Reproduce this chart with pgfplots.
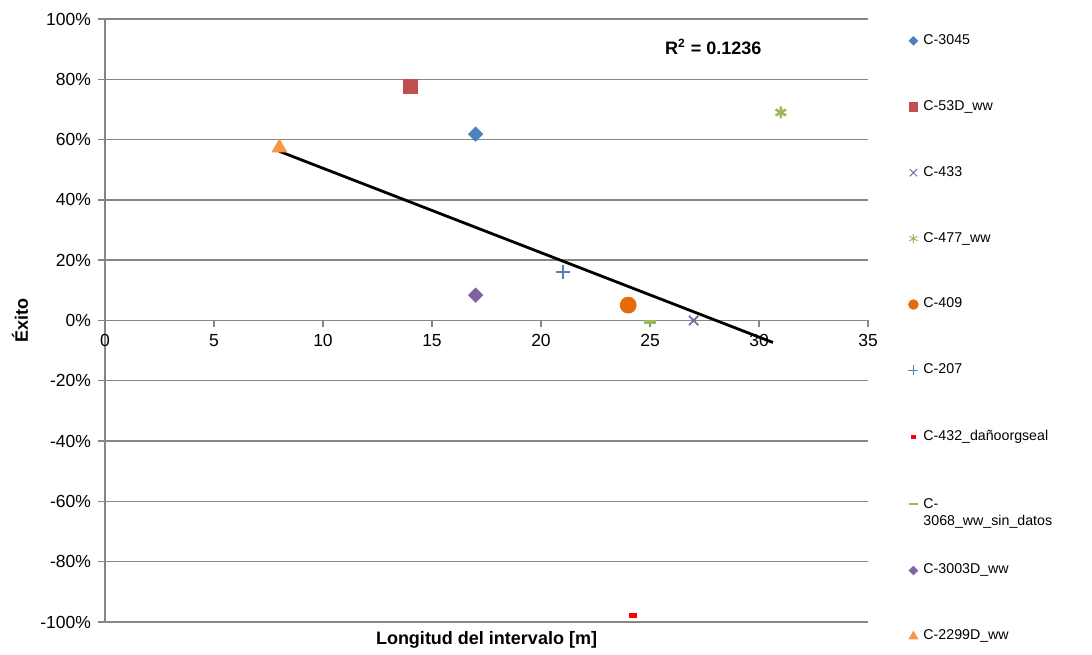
\documentclass[border=0pt]{standalone}
\usepackage{fontspec}
\setmainfont{Liberation Sans}
\usepackage{pgfplots}
\pgfplotsset{compat=1.18}
\definecolor{cblue}{HTML}{4F81BD}
\definecolor{cred}{HTML}{C0504D}
\definecolor{cpurple}{HTML}{8064A2}
\definecolor{cgreen}{HTML}{9BBB59}
\definecolor{corange}{HTML}{E46C0A}
\definecolor{clorange}{HTML}{F79646}
\definecolor{cgrid}{RGB}{134,134,134}
\begin{document}
\begin{tikzpicture}
\begin{axis}[
  scale only axis, width=381.5pt, height=301.5pt,
  xmin=0, xmax=35, ymin=-100, ymax=100,
  axis x line=middle, axis y line=left,
  axis line style={-, cgrid, line width=0.7pt},
  hide obscured x ticks=false, hide obscured y ticks=false,
  xtick={0,5,...,35}, ytick={-100,-80,...,100},
  tick align=outside, major tick length=3.5pt,
  tick style={cgrid, line width=0.7pt},
  ymajorgrids, grid style={cgrid, line width=0.7pt},
  /pgf/number format/assume math mode=true,
  ticklabel style={font=\fontsize{8.75}{10}\selectfont},
  yticklabel={\pgfmathprintnumber{\tick}\%},
  xlabel={Longitud del intervalo [m]},
  ylabel={Éxito},
  label style={font=\bfseries\fontsize{9}{10}\selectfont},
  xlabel style={at={(axis description cs:0.5,0)}, anchor=north, yshift=-1pt},
  ylabel style={at={(axis description cs:-0.1114,0.5)}, anchor=center},
  mk/.style={only marks, legend image code/.code={\draw[##1, every mark/.append style={scale=0.6}] plot coordinates {(0cm,0cm)};}},
  legend cell align=left,
  legend style={at={(1,1)}, anchor=north west, xshift=20pt, yshift=-7pt,
    draw=none, fill=none, font=\fontsize{7.1}{8.5}\selectfont,
    row sep=25.5pt, inner sep=0pt, nodes={inner sep=0.5pt}, column sep=2pt},
]
\addplot[mk, mark=square*, mark size=2.5pt, mark options={rotate=45, fill=cblue, draw=cblue}] coordinates {(17,61.8)};
\addlegendentry{C-3045}
\addplot[mk, mark=square*, mark size=3.5pt, mark options={fill=cred, draw=cred}] coordinates {(14,77.5)};
\addlegendentry{C-53D\_ww}
\addplot[mk, mark=x, mark size=3.3pt, mark options={draw=cpurple, line width=0.9pt},
  legend image post style={every mark/.append style={line width=0.5pt, scale=1.3}}] coordinates {(27,0)};
\addlegendentry{C-433}
\addplot[mk, mark=asterisk, mark size=3pt, mark options={draw=cgreen, line width=1.3pt},
  legend image post style={every mark/.append style={line width=0.5pt, scale=1.3}}] coordinates {(31,69)};
\addlegendentry{C-477\_ww}
\addplot[mk, mark=*, mark size=4pt, mark options={fill=corange, draw=corange}] coordinates {(24,5.1)};
\addlegendentry{C-409}
\addplot[mk, mark=+, mark size=3.5pt, mark options={draw=cblue, line width=1pt},
  legend image post style={every mark/.append style={line width=0.6pt, scale=1.2}}] coordinates {(21,16.1)};
\addlegendentry{C-207}
\addplot[mk, mark=-, mark size=2pt, mark options={draw=red, line width=2.5pt},
  legend image post style={every mark/.append style={line width=2pt}}] coordinates {(24.2,-98)};
\addlegendentry{C-432\_dañoorgseal}
\addplot[mk, mark=-, mark size=2.8pt, mark options={draw=cgreen, line width=2pt},
  legend image post style={every mark/.append style={line width=1pt, scale=1.3}}] coordinates {(25,-0.4)};
\addlegendentry{\begin{tabular}[t]{@{}l@{}}C-\\3068\_ww\_sin\_datos\end{tabular}}
\addplot[mk, mark=square*, mark size=2.5pt, mark options={rotate=45, fill=cpurple, draw=cpurple}] coordinates {(17,8.4)};
\addlegendentry{C-3003D\_ww}
\addplot[mk, mark=triangle*, mark size=4.2pt, mark options={fill=clorange, draw=clorange}] coordinates {(8,57.3)};
\addlegendentry{C-2299D\_ww}
\addplot[black, line width=1.4pt, forget plot] coordinates {(8,56.1) (30.64,-7.3)};
\node[font=\bfseries\fontsize{9}{10}\selectfont] at (axis cs:27.9,90.7) {R\textsuperscript{2} = 0.1236};
\end{axis}
\path ([shift={(-52.5pt,-12.5pt)}]current axis.south west) rectangle ([shift={(112pt,9.5pt)}]current axis.north east);
\end{tikzpicture}
\end{document}
